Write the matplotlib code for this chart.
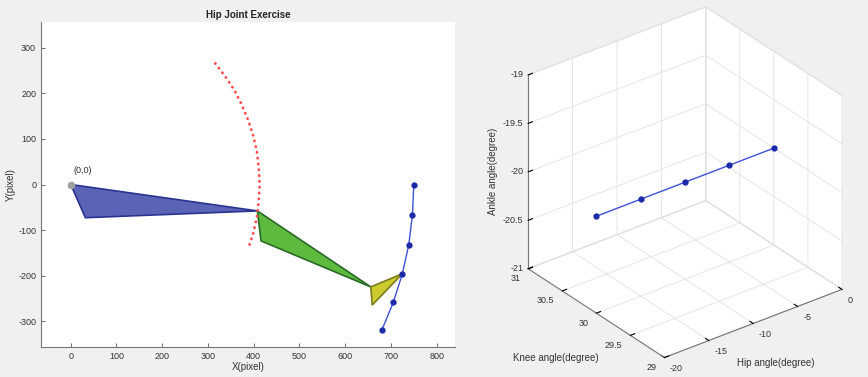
import numpy as np
import matplotlib
matplotlib.use("Agg")
from matplotlib import pyplot as plt

plt.rcParams['font.family'] = ['Liberation Sans', 'DejaVu Sans']
plt.rcParams['axes.unicode_minus'] = False

# leg segments (x, y) in pixels
thigh_x = [0, 408, 32]
thigh_y = [0, -58, -73]
shank_x = [408, 416, 656]
shank_y = [-58, -124, -225]
foot_x = [656, 659, 725]
foot_y = [-225, -265, -196]

# knee path (red dots) and ankle path (blue markers)
knee_x = [316, 338, 358, 374, 388, 399, 407, 411, 413, 411, 407, 399, 388]
knee_y = [266, 237, 207, 175, 141, 107, 72, 36, 0, -36, -72, -107, -141]
ankle_x = [750, 747, 739, 725, 705, 680]
ankle_y = [0, -66, -132, -196, -259, -320]

# joint angles for the 3d view
hip_angle = [-20, -15, -10, -5, 0]
knee_angle = [30, 30, 30, 30, 30]
ankle_angle = [-20, -20, -20, -20, -20]

hip_ticks = [-20, -15, -10, -5, 0]
knee_ticks = [29, 29.5, 30, 30.5, 31]
ankle_ticks = [-21, -20.5, -20, -19.5, -19]

bg = '#f0f0f0'
txt = '#333333'
fs = 6.5
W, H = 868, 377

fig = plt.figure(figsize=(W / 100, H / 100), dpi=100, facecolor=bg)

# ---- 2d stick figure ----
ax = fig.add_axes([41/W, 30/H, 414/W, 325/H])
ax.set_facecolor('white')
ax.fill(thigh_x, thigh_y, facecolor='#5a63b5', edgecolor='#2b3391', linewidth=1.2, zorder=2)
ax.fill(shank_x, shank_y, facecolor='#5dba3e', edgecolor='#286b26', linewidth=1.2, zorder=2)
ax.fill(foot_x, foot_y, facecolor='#cccc2e', edgecolor='#7a7a1e', linewidth=1.2, zorder=2)
ax.plot(knee_x, knee_y, color='#ff4a4a', linestyle=(0, (0.1, 2.0)), linewidth=2.0,
        dash_capstyle='round', zorder=3)
ax.plot(ankle_x, ankle_y, color='#4050d8', linewidth=1.0, marker='o', markersize=3.5,
        markerfacecolor='#1a2aa8', markeredgecolor='#1a2aa8', zorder=4)
ax.plot([0], [0], marker='o', markersize=4.5, color='#a0a0a0', zorder=5)
ax.text(6, 20, '(0,0)', fontsize=fs, color=txt, ha='left', va='bottom')

ax.set_xlim(-65, 840)
ax.set_ylim(-357, 357)
ax.set_xticks(np.arange(0, 801, 100))
ax.set_yticks(np.arange(-300, 301, 100))
ax.tick_params(direction='in', length=3, width=0.6, labelsize=fs, colors='#555555',
               labelcolor=txt)
for s in ['top', 'right']:
    ax.spines[s].set_visible(False)
for s in ['left', 'bottom']:
    ax.spines[s].set_color('#777777')
    ax.spines[s].set_linewidth(0.8)
ax.set_title('Hip Joint Exercise', fontsize=7, fontweight='bold', color='#222222', pad=3)
ax.set_xlabel('X(pixel)', fontsize=7, color=txt, labelpad=1)
ax.set_ylabel('Y(pixel)', fontsize=7, color=txt, labelpad=2)

# ---- 3d joint angle plot ----
ax3 = fig.add_axes([0.507, -0.12, 0.55, 1.24], projection='3d')
ax3.set_facecolor((0, 0, 0, 0))
ax3.set_proj_type('ortho')
ax3.view_init(elev=30, azim=-127.5)
ax3.set_box_aspect((1, 1, 1), zoom=0.805)
ax3.plot(hip_angle, knee_angle, ankle_angle, color='#4050d8', linewidth=1.0,
         marker='o', markersize=3.5, markerfacecolor='#1a2aa8', markeredgecolor='#1a2aa8')
ax3.set_xlim(-20, 0)
ax3.set_ylim(29, 31)
ax3.set_zlim(-21, -19)
ax3.set_xticks(hip_ticks)
ax3.set_yticks(knee_ticks)
ax3.set_zticks(ankle_ticks)
ax3.xaxis.set_major_formatter(plt.NullFormatter())
ax3.yaxis.set_major_formatter(plt.NullFormatter())
ax3.zaxis.set_major_formatter(plt.NullFormatter())
for a in (ax3.xaxis, ax3.yaxis, ax3.zaxis):
    a.set_pane_color((1, 1, 1, 1))
    a.pane.set_edgecolor('#e4e4e4')
    a.line.set_color('#777777')
    a.line.set_linewidth(0.8)
    a._axinfo['grid']['color'] = '#e2e2e2'
    a._axinfo['grid']['linewidth'] = 0.6
    a._axinfo['tick']['inward_factor'] = 0.0
    a._axinfo['tick']['outward_factor'] = 0.3

fig.canvas.draw()
M = ax3.get_proj()


def to_px(x, y, z):
    v = M @ np.array([x, y, z, 1.0])
    return ax3.transData.transform((v[0] / v[3], v[1] / v[3]))


def label_at(x, y, z, s, dx, dy, ha):
    px, py = to_px(x, y, z)
    fig.text((px + dx) / W, (py - dy) / H, s, fontsize=fs, color=txt, ha=ha, va='center')


# tick labels along the three visible box edges (offsets in pixels, dy downwards)
for h in hip_ticks:
    label_at(h, 29, -21, '%g' % h, 5.5, 11, 'left')
for k in knee_ticks:
    label_at(-20, k, -21, '%g' % k, -8, 10, 'right')
for z in ankle_ticks:
    label_at(-20, 31, z, '%g' % z, -5, 0, 'right')

fig.text(776/W, 1 - 363/H, 'Hip angle(degree)', fontsize=7, color=txt,
         ha='center', va='center')
fig.text(556/W, 1 - 358/H, 'Knee angle(degree)', fontsize=7, color=txt,
         ha='center', va='center')
fig.text(493/W, 1 - 171/H, 'Ankle angle(degree)', fontsize=7, color=txt,
         ha='center', va='center', rotation=90)

fig.savefig('out.png', dpi=100, facecolor=bg)
